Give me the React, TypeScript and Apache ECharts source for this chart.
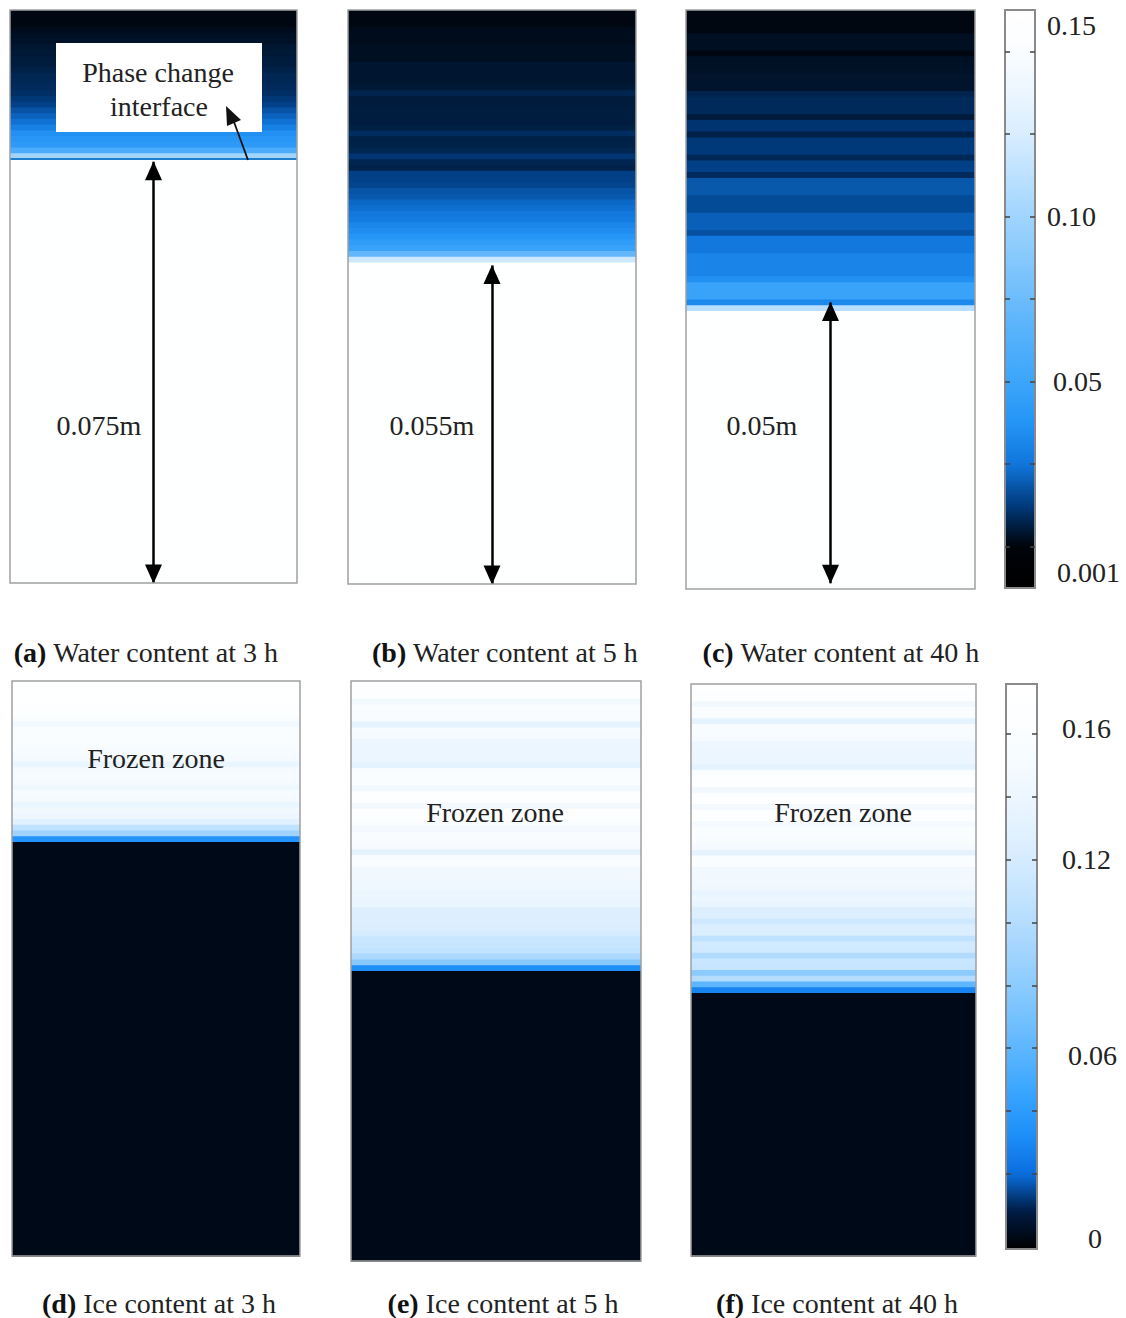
import React, { useEffect, useRef } from 'react';
import * as echarts from 'echarts';

// ---------- data ----------
const DEPTH_MAX = 0.1; // m, height of the soil column
const LAYER = 0.001; // m, thickness of one profile layer

// water content, layer by layer from the top (frozen part)
const waterA = [0.001, 0.001, 0.001, 0.002, 0.003, 0.0035, 0.0045, 0.005, 0.0055, 0.006, 0.007, 0.008, 0.0085, 0.009, 0.010, 0.012, 0.014, 0.018, 0.021, 0.024, 0.029, 0.036, 0.039, 0.042, 0.058, 0.10];
const waterB = [0.001, 0.001, 0.001, 0.002, 0.002, 0.002, 0.0027, 0.0027, 0.0027, 0.0043, 0.0043, 0.0043, 0.0043, 0.005, 0.0075, 0.0055, 0.0055, 0.006, 0.006, 0.006, 0.0065, 0.0095, 0.0068, 0.007, 0.008, 0.0115, 0.0078, 0.007, 0.0135, 0.014, 0.015, 0.018, 0.019, 0.022, 0.0235, 0.026, 0.028, 0.032, 0.035, 0.038, 0.044, 0.048, 0.07, 0.12];
const waterC = [0.001, 0.001, 0.001, 0.001, 0.0027, 0.0027, 0.0027, 0.001, 0.003, 0.0032, 0.0035, 0.0038, 0.004, 0.004, 0.0075, 0.0088, 0.0088, 0.0088, 0.0055, 0.011, 0.0112, 0.0068, 0.0122, 0.0122, 0.0122, 0.0085, 0.0138, 0.014, 0.009, 0.0188, 0.0188, 0.0188, 0.016, 0.016, 0.016, 0.0204, 0.0204, 0.0204, 0.0173, 0.026, 0.026, 0.026, 0.031, 0.031, 0.031, 0.031, 0.036, 0.048, 0.048, 0.048, 0.033, 0.11];
const waterUnfrozen = 0.16;

// ice content, layer by layer from the top (frozen part)
const iceD = [0.172, 0.172, 0.170, 0.170, 0.168, 0.165, 0.160, 0.146, 0.158, 0.160, 0.158, 0.155, 0.152, 0.150, 0.137, 0.150, 0.152, 0.150, 0.144, 0.152, 0.150, 0.137, 0.146, 0.142, 0.128, 0.106, 0.090, 0.035];
const iceE = [0.168, 0.168, 0.165, 0.146, 0.158, 0.156, 0.155, 0.133, 0.152, 0.150, 0.141, 0.140, 0.140, 0.140, 0.133, 0.155, 0.160, 0.160, 0.146, 0.165, 0.165, 0.148, 0.165, 0.165, 0.160, 0.148, 0.156, 0.155, 0.153, 0.133, 0.156, 0.158, 0.146, 0.146, 0.145, 0.144, 0.140, 0.138, 0.136, 0.126, 0.125, 0.125, 0.124, 0.120, 0.112, 0.111, 0.108, 0.095, 0.078, 0.032];
const iceF = [0.170, 0.168, 0.165, 0.146, 0.160, 0.158, 0.133, 0.155, 0.154, 0.152, 0.142, 0.140, 0.140, 0.140, 0.133, 0.160, 0.165, 0.165, 0.146, 0.165, 0.165, 0.148, 0.165, 0.165, 0.150, 0.160, 0.158, 0.156, 0.150, 0.134, 0.158, 0.160, 0.146, 0.146, 0.146, 0.145, 0.136, 0.140, 0.136, 0.126, 0.125, 0.115, 0.124, 0.124, 0.106, 0.118, 0.116, 0.098, 0.112, 0.110, 0.080, 0.100, 0.060, 0.028];
const iceUnfrozen = 0;

// depth of the phase change front (m from top) and unfrozen thickness labels
const waterFrontDepth = [0.0265, 0.0445, 0.0505];
const arrowBottomDepth = [0.1, 0.1, 0.099];
const thicknessLabels = ['0.075m', '0.055m', '0.05m'];

const panelLetters = ['(a)', '(b)', '(c)', '(d)', '(e)', '(f)'];
const panelCaptions = [
  'Water content at 3 h',
  'Water content at 5 h',
  'Water content at 40 h',
  'Ice content at 3 h',
  'Ice content at 5 h',
  'Ice content at 40 h',
];

// colour bars
const waterRange = [-0.0125, 0.1625];
const waterTickValues = [0, 0.025, 0.05, 0.075, 0.1, 0.125, 0.15];
const waterLabelValues = [0.15, 0.1, 0.05, 0.001];
const waterLabelTexts = ['0.15', '0.10', '0.05', '0.001'];
const iceRange = [-0.004, 0.176];
const iceTickValues = [0.02, 0.04, 0.06, 0.08, 0.1, 0.12, 0.14, 0.16];
const iceLabelValues = [0.16, 0.12, 0.06, 0];
const iceLabelTexts = ['0.16', '0.12', '0.06', '0'];

const waterColors = ['#000000', '#000308', '#003a7c', '#1076dc', '#2494f6', '#3ca6fa', '#52b0fb', '#6cbcfc', '#86c9fd', '#a0d4fe', '#bde1ff', '#d8edff', '#ecf6ff', '#fafdff', '#ffffff'];
const iceColors = ['#000000', '#001c44', '#0a6ede', '#1e8ef8', '#34a2ff', '#54b2ff', '#70bfff', '#8ccbff', '#a4d5ff', '#bbe0ff', '#cfe9ff', '#e0f0ff', '#ecf6ff', '#f6fbff', '#fcfeff', '#ffffff'];

// ---------- helpers ----------
const FONT = '"Liberation Serif", "Times New Roman", serif';
const FS = 28;

function buildLayers(profile: number[], rest: number) {
  const d: number[][] = profile.map((v, i) => [i * LAYER, (i + 1) * LAYER, v]);
  d.push([profile.length * LAYER, DEPTH_MAX, rest]);
  return d;
}

const renderLayer = (params: any, api: any) => {
  const p0 = api.coord([0, api.value(0)]);
  const p1 = api.coord([1, api.value(1)]);
  return {
    type: 'rect',
    shape: { x: p0[0], y: p0[1], width: p1[0] - p0[0], height: p1[1] - p0[1] + 0.8 },
    style: { fill: api.visual('color') },
    silent: true,
  };
};

const panelGrids = [
  { left: 10, top: 10, width: 287, height: 573 },
  { left: 348, top: 10, width: 288, height: 574 },
  { left: 686, top: 10, width: 289, height: 579 },
  { left: 12, top: 681, width: 288, height: 575 },
  { left: 351, top: 681, width: 290, height: 580 },
  { left: 691, top: 684, width: 285, height: 572 },
];
const barGrids = [
  { left: 1005, top: 10, width: 30, height: 578 },
  { left: 1006, top: 684, width: 31, height: 565 },
];

function buildOption() {
  const profiles = [
    buildLayers(waterA, waterUnfrozen),
    buildLayers(waterB, waterUnfrozen),
    buildLayers(waterC, waterUnfrozen),
    buildLayers(iceD, iceUnfrozen),
    buildLayers(iceE, iceUnfrozen),
    buildLayers(iceF, iceUnfrozen),
  ];

  const grid: any[] = [
    ...panelGrids.map((g) => ({ ...g, show: true, borderColor: '#a0a0a0', borderWidth: 1.5, backgroundColor: 'transparent', z: 10 })),
    ...barGrids.map((g) => ({ ...g, show: true, borderColor: '#8a8a8a', borderWidth: 2, backgroundColor: 'transparent', z: 10 })),
  ];

  const xAxis: any[] = grid.map((_, i) => ({ type: 'value', gridIndex: i, min: 0, max: 1, show: false }));
  const yAxis: any[] = panelGrids.map((_, i) => ({ type: 'value', gridIndex: i, min: 0, max: DEPTH_MAX, inverse: true, show: false }));

  const tickStyle = { show: true, inside: true, length: 5, lineStyle: { color: '#444', width: 1.5 } };
  const makeBarAxes = (gridIndex: number, range: number[], ticks: number[], labelVals: number[], labelTexts: string[], margin: number, rich: any) => [
    {
      type: 'value', gridIndex, min: range[0], max: range[1], position: 'left', z: 20,
      axisLine: { show: false }, splitLine: { show: false },
      axisTick: { ...tickStyle, customValues: ticks },
      axisLabel: { show: false },
    },
    {
      type: 'value', gridIndex, min: range[0], max: range[1], position: 'right', z: 20,
      axisLine: { show: false }, splitLine: { show: false },
      axisTick: { ...tickStyle, customValues: ticks },
      axisLabel: {
        show: true, margin, customValues: labelVals,
        fontFamily: FONT, fontSize: FS, color: '#222', align: 'left',
        formatter: (v: number) => {
          const k = labelVals.findIndex((x) => Math.abs(x - v) < 1e-9);
          const key = ['t', 'm', 'n', 'b'][k] || 'm';
          return `{${key}|${labelTexts[k] ?? ''}}`;
        },
        rich,
      },
    },
  ];
  yAxis.push(
    ...makeBarAxes(6, waterRange, waterTickValues, waterLabelValues, waterLabelTexts, 12, {
      t: { fontFamily: FONT, fontSize: FS, color: '#222', padding: [0, 0, 52, 0] },
      m: { fontFamily: FONT, fontSize: FS, color: '#222', padding: [0, 0, 0, 0] },
      n: { fontFamily: FONT, fontSize: FS, color: '#222', padding: [0, 0, 0, 6] },
      b: { fontFamily: FONT, fontSize: FS, color: '#222', padding: [58, 0, 0, 10] },
    }),
    ...makeBarAxes(7, iceRange, iceTickValues, iceLabelValues, iceLabelTexts, 25, {
      t: { fontFamily: FONT, fontSize: FS, color: '#222', padding: [0, 0, 12, 0] },
      m: { fontFamily: FONT, fontSize: FS, color: '#222', padding: [0, 0, 0, 0] },
      n: { fontFamily: FONT, fontSize: FS, color: '#222', padding: [14, 0, 0, 6] },
      b: { fontFamily: FONT, fontSize: FS, color: '#222', padding: [4, 0, 0, 26] },
    }),
  );

  const arrowEnd = (coord: number[]) => ({ coord, symbol: 'triangle', symbolSize: [17, 19], symbolOffset: [0, 9] });
  const series: any[] = profiles.map((data, i) => {
    const s: any = {
      type: 'custom',
      name: panelCaptions[i],
      xAxisIndex: i,
      yAxisIndex: i,
      renderItem: renderLayer,
      data,
      dimensions: ['top', 'bottom', 'value'],
      encode: { y: [0, 1] },
      silent: true,
      z: 2,
    };
    if (i < 3) {
      const lines: any[] = [
        [arrowEnd([0.5, waterFrontDepth[i]]), arrowEnd([0.5, arrowBottomDepth[i]])],
      ];
      if (i === 0) {
        lines.push([
          { coord: [0, waterA.length * LAYER], symbol: 'none', lineStyle: { color: '#1f7fcf', width: 2, type: 'solid' } },
          { coord: [1, waterA.length * LAYER], symbol: 'none' },
        ]);
      }
      s.markLine = {
        silent: true,
        animation: false,
        label: { show: false },
        lineStyle: { color: '#000', width: 2.5, type: 'solid' },
        emphasis: { disabled: true },
        data: lines,
      };
    }
    return s;
  });

  const visualMap: any[] = [
    {
      type: 'continuous', seriesIndex: [0, 1, 2], dimension: 2,
      min: waterRange[0], max: waterRange[1], inRange: { color: waterColors },
      calculable: false, hoverLink: false, show: true, orient: 'vertical',
      left: barGrids[0].left, top: barGrids[0].top, itemWidth: barGrids[0].width, itemHeight: barGrids[0].height,
      padding: 0, text: null, z: 4,
    },
    {
      type: 'continuous', seriesIndex: [3, 4, 5], dimension: 2,
      min: iceRange[0], max: iceRange[1], inRange: { color: iceColors },
      calculable: false, hoverLink: false, show: true, orient: 'vertical',
      left: barGrids[1].left, top: barGrids[1].top, itemWidth: barGrids[1].width, itemHeight: barGrids[1].height,
      padding: 0, text: null, z: 4,
    },
  ];

  const txt = (text: string, x: number, y: number, extra: any = {}) => ({
    type: 'text', x, y, silent: true, z: 100,
    style: {
      text, fill: '#222', fontFamily: FONT, fontSize: FS,
      align: 'center', verticalAlign: 'middle', textAlign: 'center', textVerticalAlign: 'middle',
      ...extra,
    },
  });

  const captionPos = [[146, 652], [505, 652], [841, 652], [159, 1303], [503, 1303], [837, 1303]];
  const graphic: any[] = [
    // callout box
    { type: 'rect', shape: { x: 56, y: 43, width: 206, height: 89 }, style: { fill: '#ffffff' }, z: 90, silent: true },
    txt('Phase change', 158, 72),
    txt('interface', 159, 106),
    { type: 'line', shape: { x1: 248, y1: 160, x2: 234, y2: 122 }, style: { stroke: '#111', lineWidth: 1.8 }, z: 95, silent: true },
    { type: 'polygon', shape: { points: [[226, 106], [241, 120], [227, 126]] }, style: { fill: '#111' }, z: 95, silent: true },
    // thickness labels
    txt(thicknessLabels[0], 99, 425),
    txt(thicknessLabels[1], 432, 425),
    txt(thicknessLabels[2], 762, 425),
    // frozen zone labels
    txt('Frozen zone', 156, 758),
    txt('Frozen zone', 495, 812),
    txt('Frozen zone', 843, 812),
    // captions
    ...panelCaptions.map((c, i) =>
      txt(`{b|${panelLetters[i]}} ${c}`, captionPos[i][0], captionPos[i][1], {
        rich: { b: { fontFamily: FONT, fontSize: FS, fontWeight: 'bold', fill: '#111' } },
      })
    ),
  ];

  return {
    animation: false,
    backgroundColor: '#ffffff',
    textStyle: { fontFamily: FONT },
    grid, xAxis, yAxis, series, visualMap, graphic,
  };
}

export default function App() {
  const ref = useRef<HTMLDivElement>(null);
  useEffect(() => {
    if (!ref.current) return;
    const chart = echarts.init(ref.current, undefined, { renderer: 'svg' });
    chart.setOption(buildOption() as any);
    return () => chart.dispose();
  }, []);
  return (
    <div
      ref={ref}
      style={{ position: 'absolute', left: 0, top: 0, width: 1126, height: 1318, background: '#fff' }}
    />
  );
}
